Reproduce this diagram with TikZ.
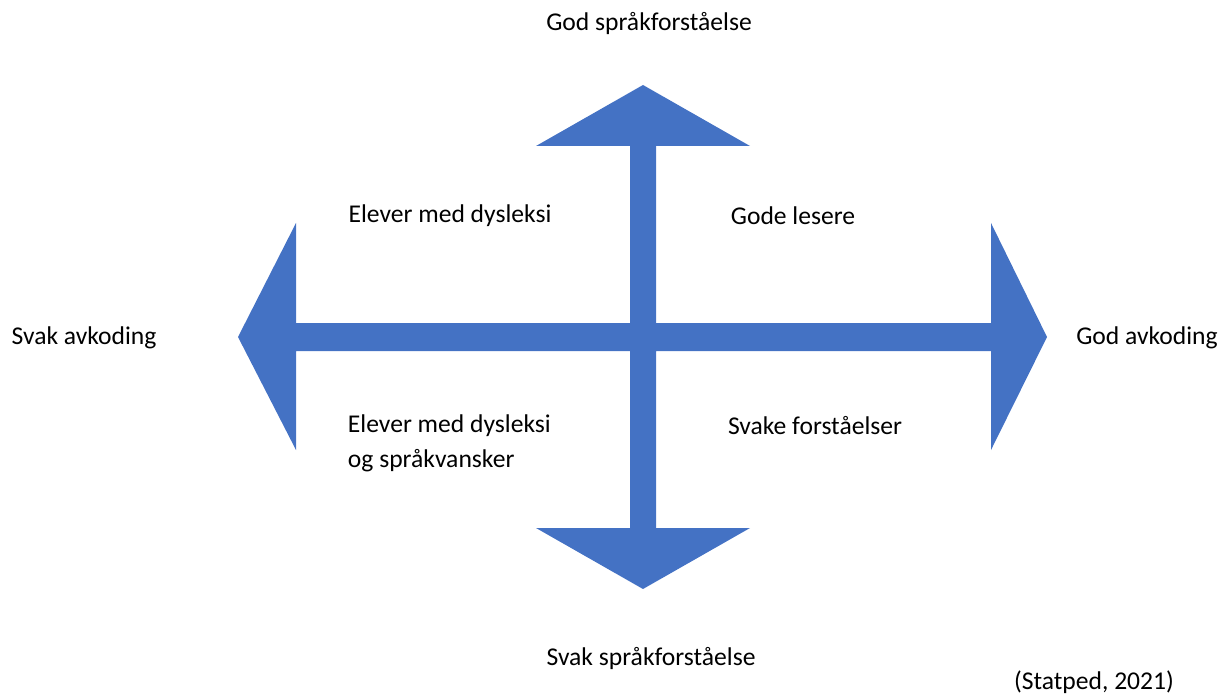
\documentclass[tikz,border=0pt]{standalone}
\usepackage{fontspec}
\setmainfont{Carlito}
\usepackage{xcolor}
\usepackage{tikz}
\definecolor{crossblue}{HTML}{4472C4}

\begin{document}
\begin{tikzpicture}[x=0.025cm, y=-0.025cm, font=\fontsize{18.2}{25}\selectfont]
            \useasboundingbox (0,0) rectangle (1228,695);

            \fill[crossblue] (643,85) -- (750,146) -- (656,146) -- (656,323) -- (991,323) -- (991,223)
                -- (1047,337) -- (991,450) -- (991,351) -- (656,351) -- (656,528) -- (750,528)
                -- (643,589) -- (536,528) -- (630,528) -- (630,351) -- (296,351) -- (296,450)
                -- (238,337) -- (296,223) -- (296,323) -- (630,323) -- (630,146) -- (536,146) -- cycle;

            \node (top) at (649,23) {God språkforståelse};
            \node (bottom) at (651,658) {Svak språkforståelse};
            \node (left) at (84,338) {Svak avkoding};
            \node (right) at (1147,338) {God avkoding};

            \node (nw) at (450,216) {Elever med dysleksi};
            \node (ne) at (793,216) {Gode lesere};
            \node[anchor=west, align=left] (sw) at (343,443) {Elever med dysleksi\\og språkvansker};
            \node (se) at (815,426) {Svake forståelser};

            \node[inner sep=0pt] (src) at (1094,682) {(Statped, 2021)};
        \end{tikzpicture}
\end{document}
